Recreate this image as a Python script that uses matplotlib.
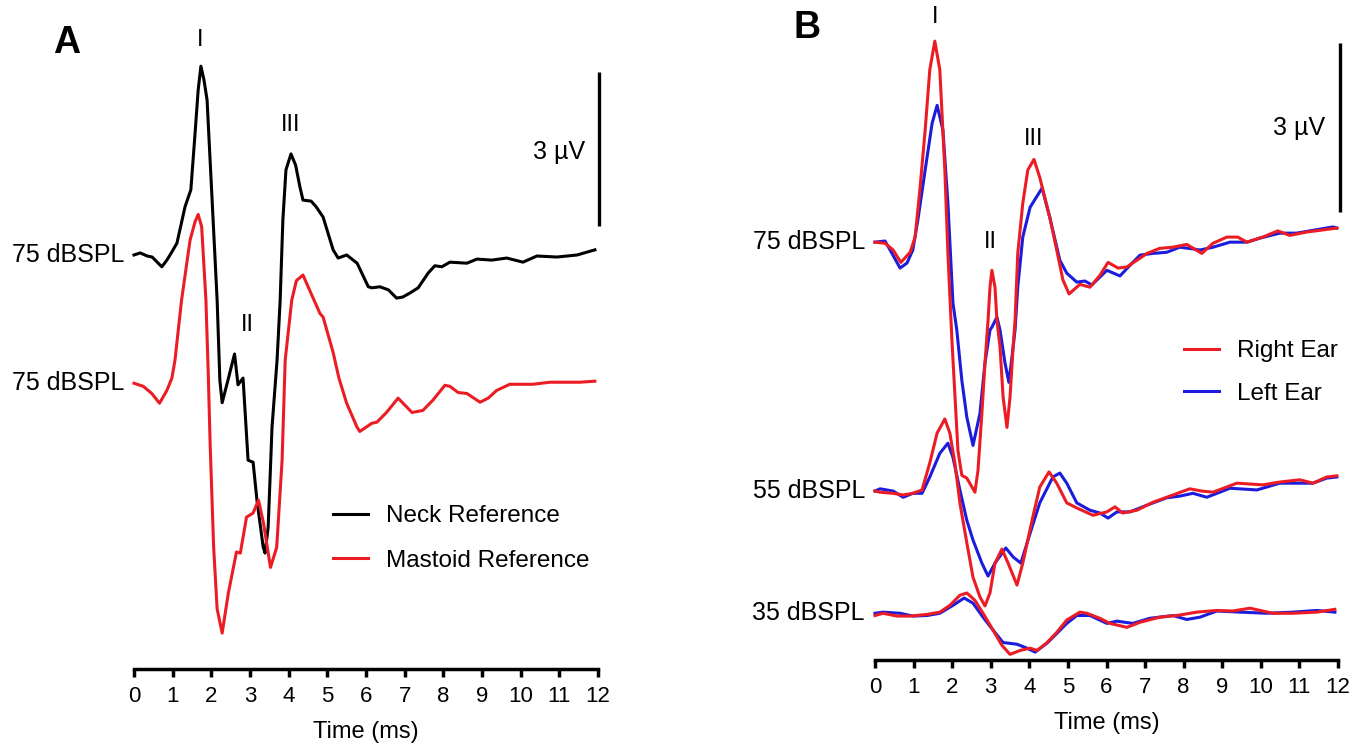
import matplotlib
matplotlib.use('Agg')
import matplotlib.pyplot as plt

plt.rcParams['font.family'] = ['Liberation Sans', 'DejaVu Sans']

# ---- Panel A: 75 dBSPL, neck vs mastoid reference (time in ms, amplitude in uV) ----
neck_t = [0, 0.16, 0.34, 0.47, 0.6, 0.72, 0.85, 0.98, 1.11, 1.32, 1.47, 1.58, 1.66, 1.73, 1.81,
          1.89, 2.02, 2.15, 2.22, 2.28, 2.43, 2.6, 2.69, 2.82, 2.95, 3.08, 3.18, 3.34, 3.39, 3.47,
          3.57, 3.70, 3.78, 3.85, 3.93, 4.06, 4.18, 4.29, 4.37, 4.58, 4.71, 4.89, 5.15, 5.28, 5.5,
          5.77, 6.06, 6.15, 6.36, 6.58, 6.79, 6.95, 7.14, 7.35, 7.61, 7.78, 7.96, 8.17, 8.61, 8.87,
          9.25, 9.64, 10.06, 10.42, 10.94, 11.46, 11.92]
neck_v = [0, 0.04, -0.02, -0.04, -0.14, -0.23, -0.1, 0.06, 0.23, 0.94, 1.27, 2.38, 3.22, 3.68, 3.41,
          3.02, 1.07, -0.88, -2.44, -2.88, -2.44, -1.93, -2.53, -2.40, -4.0, -4.04, -4.78, -5.69, -5.81, -5.3,
          -3.35, -2.05, -0.88, 0.68, 1.66, 1.97, 1.75, 1.33, 1.07, 1.05, 0.94, 0.74, 0.1, -0.06, 0,
          -0.16, -0.62, -0.64, -0.62, -0.68, -0.84, -0.82, -0.74, -0.64, -0.35, -0.21, -0.23, -0.14, -0.16, -0.08,
          -0.1, -0.06, -0.14, -0.02, -0.04, 0, 0.1]

mastoid_t = [0, 0.24, 0.46, 0.66, 0.85, 0.98, 1.06, 1.23, 1.45, 1.58, 1.66, 1.75, 1.86, 1.92, 1.97,
             2.06, 2.15, 2.28, 2.44, 2.65, 2.75, 2.91, 3.08, 3.22, 3.35, 3.53, 3.69, 3.83, 3.91, 4.08,
             4.20, 4.37, 4.55, 4.81, 4.89, 5.15, 5.3, 5.5, 5.77, 5.84, 6.15, 6.28, 6.53, 6.83, 7.19,
             7.47, 7.73, 8.04, 8.17, 8.38, 8.61, 8.95, 9.16, 9.38, 9.72, 10.32, 10.76, 11.19, 11.53, 11.92]
mastoid_v = [0, -0.06, -0.2, -0.39, -0.14, 0.1, 0.45, 1.62, 2.79, 3.15, 3.29, 3.05, 1.62, 0.2, -1.2,
             -3.2, -4.4, -4.87, -4.09, -3.29, -3.31, -2.61, -2.53, -2.28, -2.73, -3.59, -3.2, -1.5, 0.45, 1.62,
             2.0, 2.11, 1.8, 1.36, 1.29, 0.6, 0.1, -0.39, -0.86, -0.94, -0.78, -0.76, -0.57, -0.29, -0.57,
             -0.53, -0.33, -0.04, -0.06, -0.18, -0.2, -0.37, -0.29, -0.14, -0.02, -0.02, 0.02, 0.02, 0.02, 0.04]

# ---- Panel B: right vs left ear at three levels ----
r75_t = [0, 0.26, 0.47, 0.67, 0.91, 1.04, 1.17, 1.30, 1.42, 1.55, 1.68, 1.81, 1.89, 1.99, 2.05,
         2.15, 2.25, 2.38, 2.59, 2.67, 2.77, 2.85, 2.93, 2.98, 3.03, 3.11, 3.16, 3.24, 3.32, 3.42,
         3.50, 3.58, 3.63, 3.70, 3.83, 3.96, 4.12, 4.27, 4.53, 4.71, 4.87, 5.03, 5.31, 5.57, 5.83,
         6.04, 6.30, 6.53, 6.79, 7.05, 7.38, 7.72, 8.08, 8.47, 8.76, 9.12, 9.40, 9.64, 10.05, 10.44,
         10.75, 11.19, 11.53, 11.97]
r75_v = [0, -0.02, -0.14, -0.36, -0.18, 0.09, 0.98, 1.99, 3.06, 3.57, 3.06, 1.28, -0.2, -1.69, -2.45,
         -3.7, -4.14, -4.19, -4.44, -4.05, -3.04, -2.15, -1.39, -0.8, -0.5, -0.8, -1.39, -1.86, -2.75, -3.29,
         -2.75, -1.86, -1.39, -0.2, 0.69, 1.28, 1.47, 1.15, 0.44, -0.14, -0.67, -0.92, -0.75, -0.8, -0.59,
         -0.36, -0.46, -0.44, -0.32, -0.2, -0.11, -0.09, -0.04, -0.2, -0.02, 0.09, 0.09, 0, 0.09, 0.2,
         0.12, 0.18, 0.21, 0.25]

l75_t = [0, 0.26, 0.44, 0.65, 0.83, 0.98, 1.11, 1.30, 1.48, 1.61, 1.76, 1.89, 2.02, 2.12, 2.25,
         2.38, 2.54, 2.72, 2.85, 2.98, 3.03, 3.16, 3.24, 3.37, 3.47, 3.55, 3.63, 3.70, 3.83, 4.02,
         4.33, 4.53, 4.79, 4.97, 5.23, 5.44, 5.62, 6.01, 6.35, 6.61, 6.87, 7.20, 7.56, 7.90, 8.24,
         8.42, 8.76, 9.20, 9.64, 9.97, 10.49, 10.93, 11.35, 11.87, 11.97]
l75_v = [0, 0.02, -0.2, -0.46, -0.37, -0.14, 0.39, 1.28, 2.11, 2.43, 1.99, 0.69, -1.08, -1.56, -2.45,
         -3.11, -3.61, -3.04, -2.15, -1.56, -1.51, -1.33, -1.56, -2.15, -2.49, -2.04, -1.56, -0.8, 0.09, 0.62,
         0.96, 0.44, -0.32, -0.55, -0.71, -0.69, -0.76, -0.5, -0.6, -0.41, -0.23, -0.2, -0.18, -0.09, -0.12,
         -0.14, -0.09, 0, 0, 0.07, 0.16, 0.16, 0.21, 0.27, 0.25]

r55_t = [0, 0.13, 0.47, 0.73, 0.98, 1.22, 1.42, 1.61, 1.81, 1.94, 2.07, 2.20, 2.38, 2.54, 2.72,
         2.85, 2.98, 3.11, 3.29, 3.45, 3.68, 3.83, 4.09, 4.27, 4.51, 4.71, 4.97, 5.23, 5.65, 6.01,
         6.22, 6.42, 6.79, 7.20, 7.72, 8.16, 8.47, 8.76, 9.38, 10.05, 10.49, 11.01, 11.35, 11.71, 11.97]
r55_v = [0, -0.02, -0.04, -0.07, -0.04, 0.02, 0.5, 1.03, 1.28, 1.03, 0.5, -0.21, -0.92, -1.53, -1.88,
         -2.04, -1.81, -1.28, -1.03, -1.28, -1.67, -1.28, -0.46, 0.07, 0.34, 0.14, -0.21, -0.3, -0.43, -0.37,
         -0.28, -0.39, -0.34, -0.2, -0.07, 0.04, 0.0, -0.02, 0.14, 0.11, 0.16, 0.2, 0.14, 0.25, 0.27]

l55_t = [0, 0.13, 0.47, 0.73, 0.98, 1.22, 1.42, 1.68, 1.89, 2.02, 2.20, 2.38, 2.54, 2.77, 2.93,
         3.11, 3.39, 3.58, 3.78, 4.02, 4.27, 4.61, 4.79, 4.97, 5.23, 5.57, 5.83, 6.04, 6.27, 6.61,
         7.05, 7.56, 7.90, 8.24, 8.60, 9.20, 9.90, 10.49, 11.35, 11.71, 11.97]
l55_v = [0, 0.04, 0, -0.11, -0.04, -0.04, 0.25, 0.67, 0.85, 0.6, 0.02, -0.52, -0.87, -1.28, -1.51,
         -1.28, -1.01, -1.17, -1.28, -0.75, -0.21, 0.25, 0.32, 0.14, -0.21, -0.34, -0.39, -0.48, -0.37, -0.37,
         -0.25, -0.12, -0.09, -0.04, -0.11, 0.05, 0.02, 0.14, 0.14, 0.23, 0.25]

r35_t = [0, 0.21, 0.57, 0.91, 1.35, 1.68, 1.94, 2.20, 2.38, 2.59, 2.80, 3.06, 3.29, 3.50, 3.76,
         4.02, 4.20, 4.46, 4.71, 4.97, 5.31, 5.49, 5.83, 6.09, 6.53, 6.87, 7.38, 7.82, 8.34, 8.86,
         9.27, 9.72, 10.31, 10.83, 11.45, 11.92]
r35_v = [-0.04, 0, -0.05, -0.05, -0.02, 0.02, 0.14, 0.32, 0.36, 0.23, 0, -0.3, -0.57, -0.73, -0.66,
         -0.62, -0.66, -0.52, -0.34, -0.12, 0.02, 0.0, -0.09, -0.18, -0.25, -0.16, -0.07, -0.04, 0.02, 0.05,
         0.04, 0.09, 0, 0, 0.02, 0.07]

l35_t = [0, 0.21, 0.65, 0.98, 1.35, 1.68, 2.02, 2.31, 2.54, 2.80, 3.06, 3.32, 3.68, 3.94, 4.15,
         4.46, 4.71, 4.97, 5.23, 5.57, 6.01, 6.27, 6.68, 7.12, 7.72, 8.08, 8.42, 8.86, 9.46, 10.16,
         10.83, 11.45, 11.92]
l35_v = [0, 0.02, 0, -0.05, -0.04, 0, 0.14, 0.27, 0.18, -0.07, -0.3, -0.52, -0.55, -0.62, -0.69,
         -0.53, -0.36, -0.18, -0.04, -0.04, -0.18, -0.14, -0.18, -0.09, -0.04, -0.11, -0.07, 0.04, 0.02, 0,
         0.02, 0.05, 0.02]

# vertical offsets of the stacked traces (uV)
offA = {'neck': 0.0, 'mastoid': -2.5}
offB = {'75': 0.0, '55': -4.42, '35': -6.59}

RED = '#ec1c24'
BLUE = '#1c1cdc'
LW = 2.2

W, H = 1368, 747
fig = plt.figure(figsize=(W / 100, H / 100), dpi=100)
axA = fig.add_axes([134 / W, 78 / H, 464 / W, 669 / H])
axB = fig.add_axes([875 / W, 87 / H, 463 / W, 660 / H])


def style_axis(ax):
    for s in ['left', 'right', 'top']:
        ax.spines[s].set_visible(False)
    ax.spines['bottom'].set_linewidth(2.5)
    ax.set_xlim(0, 12)
    ax.set_xticks(range(13))
    ax.set_yticks([])
    ax.tick_params(axis='x', length=6, width=2.5, labelsize=16, pad=6)
    ax.set_xlabel('Time (ms)', fontsize=17, labelpad=10)
    ax.patch.set_visible(False)


# Panel A
style_axis(axA)
axA.set_ylim(-8.07, 4.97)
hn, = axA.plot(neck_t, [v + offA['neck'] for v in neck_v], color='black', lw=LW, clip_on=False)
hm, = axA.plot(mastoid_t, [v + offA['mastoid'] for v in mastoid_v], color=RED, lw=LW, clip_on=False)
axA.text(-0.26, offA['neck'], '75 dBSPL', ha='right', va='center', fontsize=18)
axA.text(-0.26, offA['mastoid'], '75 dBSPL', ha='right', va='center', fontsize=18)
axA.plot([12.02, 12.02], [0.57, 3.57], color='black', lw=2.4, clip_on=False, solid_capstyle='butt')
axA.text(11.66, 2.0, '3 µV', ha='right', va='center', fontsize=18)
axA.text(1.71, 4.19, 'I', ha='center', va='center', fontsize=17)
axA.text(2.92, -1.36, 'II', ha='center', va='center', fontsize=17)
axA.text(4.06, 2.53, 'III', ha='center', va='center', fontsize=17)
axA.legend([hn, hm], ['Neck Reference', 'Mastoid Reference'], loc='upper left',
           bbox_to_anchor=(333 / W, 1 - 505 / H), bbox_transform=fig.transFigure,
           frameon=False, fontsize=17.5, handlelength=1.45, handletextpad=0.75,
           labelspacing=0.94, borderpad=0, borderaxespad=0)

# Panel B (left ear drawn first, right ear on top)
style_axis(axB)
axB.set_ylim(-7.42, 4.30)
for (lt, lv, lvl) in [(l75_t, l75_v, '75'), (l55_t, l55_v, '55'), (l35_t, l35_v, '35')]:
    hl, = axB.plot(lt, [v + offB[lvl] for v in lv], color=BLUE, lw=LW, clip_on=False)
    axB.text(-0.26, offB[lvl], lvl + ' dBSPL', ha='right', va='center', fontsize=18)
for (rt, rv, lvl) in [(r75_t, r75_v, '75'), (r55_t, r55_v, '55'), (r35_t, r35_v, '35')]:
    hr, = axB.plot(rt, [v + offB[lvl] for v in rv], color=RED, lw=LW, clip_on=False)
axB.plot([12.05, 12.05], [0.53, 3.53], color='black', lw=2.4, clip_on=False, solid_capstyle='butt')
axB.text(11.66, 2.02, '3 µV', ha='right', va='center', fontsize=18)
axB.text(1.55, 4.0, 'I', ha='center', va='center', fontsize=17)
axB.text(2.98, 0.0, 'II', ha='center', va='center', fontsize=17)
axB.text(4.12, 1.83, 'III', ha='center', va='center', fontsize=17)
axB.legend([hr, hl], ['Right Ear', 'Left Ear'], loc='upper left',
           bbox_to_anchor=(1184 / W, 1 - 340 / H), bbox_transform=fig.transFigure,
           frameon=False, fontsize=17.5, handlelength=1.45, handletextpad=0.75,
           labelspacing=0.85, borderpad=0, borderaxespad=0)

fig.text(67 / W, 1 - 43 / H, 'A', ha='center', va='center', fontsize=27, fontweight='bold')
fig.text(807 / W, 1 - 28 / H, 'B', ha='center', va='center', fontsize=27, fontweight='bold')

fig.savefig('out.png', dpi=100)
